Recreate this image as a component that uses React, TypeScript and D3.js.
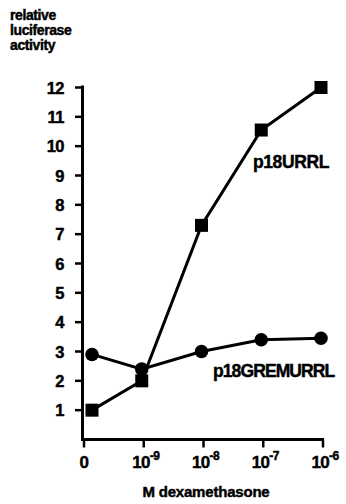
import React from "react";
import * as d3 from "d3";

const doseLabels = ["0", "10", "10", "10", "10"];
const doseExponents = ["", "-9", "-8", "-7", "-6"];
const p18URRL = [1.0, 2.0, 7.3, 10.55, 12.0];
const p18GREMURRL = [2.9, 2.4, 3.0, 3.4, 3.45];
const yTicks = [1, 2, 3, 4, 5, 6, 7, 8, 9, 10, 11, 12];
const yTitle = ["relative", "luciferase", "activity"];
const xTitle = "M dexamethasone";
const seriesNames = ["p18URRL", "p18GREMURRL"];

const W = 346;
const H = 504;
const FONT = "'Liberation Sans', Arial, Helvetica, sans-serif";

export default function App() {
  const x = d3.scaleLinear().domain([0, 4]).range([84, 323]);
  const y = d3.scaleLinear().domain([0, 12]).range([439.5, 87.5]);
  const idx = d3.range(doseLabels.length);
  // zero dose drawn slightly right of the axis, as in the figure
  const px = (i: number) => (i === 0 ? x(0) + 8 : x(i) - 2);
  const line = d3
    .line<number>()
    .x((_, i) => px(i))
    .y((d) => y(d));

  const txt = { fill: "#000", stroke: "#000", strokeWidth: 0.45 } as const;

  return (
    <svg
      width={W}
      height={H}
      style={{ position: "absolute", left: 0, top: 0, background: "#fff" }}
      fontFamily={FONT}
      fontWeight="bold"
    >
      <rect width={W} height={H} fill="#fff" />
      {yTitle.map((t, i) => (
        <text key={t} x={10} y={20 + i * 15} fontSize={14} letterSpacing={-0.4} {...txt}>
          {t}
        </text>
      ))}
      {/* y axis */}
      <line x1={x(0) - 1.5} x2={x(0) - 1.5} y1={y(12) - 2} y2={y(0) + 1.5} stroke="#000" strokeWidth={3} />
      {yTicks.map((t) => (
        <g key={t}>
          <line x1={x(0) - 9} x2={x(0) - 1.5} y1={y(t)} y2={y(t)} stroke="#000" strokeWidth={2.5} />
          <text x={64} y={y(t) + 6} fontSize={16.5} textAnchor="end" letterSpacing={-0.5} {...txt}>
            {t}
          </text>
        </g>
      ))}
      {/* x axis */}
      <line x1={x(0) - 3} x2={x(4) + 1} y1={y(0)} y2={y(0)} stroke="#000" strokeWidth={3} />
      {idx.map((i) => (
        <g key={i}>
          <line x1={x(i)} x2={x(i)} y1={y(0)} y2={y(0) + 8} stroke="#000" strokeWidth={2.5} />
          <text x={x(i) + (i === 0 ? 0 : 2)} y={468} fontSize={17} textAnchor="middle" letterSpacing={-0.6} {...txt}>
            {doseLabels[i]}
            {doseExponents[i] && (
              <tspan dy={-8} fontSize={12}>
                {doseExponents[i]}
              </tspan>
            )}
          </text>
        </g>
      ))}
      <text x={206} y={497} fontSize={15} textAnchor="middle" letterSpacing={-0.2} {...txt}>
        {xTitle}
      </text>
      {/* series */}
      <path d={line(p18GREMURRL) || ""} fill="none" stroke="#000" strokeWidth={3} />
      <path d={line(p18URRL) || ""} fill="none" stroke="#000" strokeWidth={3} />
      {p18GREMURRL.map((v, i) => (
        <circle key={"c" + i} cx={px(i)} cy={y(v)} r={6.8} fill="#000" />
      ))}
      {p18URRL.map((v, i) => (
        <rect key={"s" + i} x={px(i) - 6.5} y={y(v) - 6.5} width={13} height={13} fill="#000" />
      ))}
      <text x={253} y={168} fontSize={17.5} letterSpacing={-0.4} {...txt}>
        {seriesNames[0]}
      </text>
      <text x={213} y={377} fontSize={17.5} letterSpacing={-0.9} {...txt}>
        {seriesNames[1]}
      </text>
    </svg>
  );
}
